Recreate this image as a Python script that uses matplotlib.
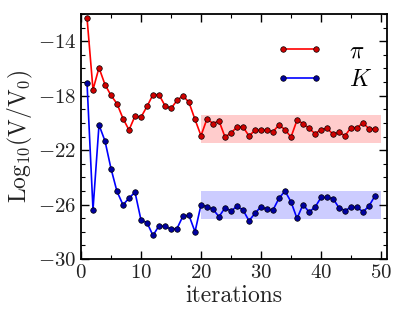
import numpy as np
import matplotlib
matplotlib.use("Agg")
import matplotlib.pyplot as plt
from matplotlib.ticker import MultipleLocator

plt.rcParams['font.family'] = 'serif'
plt.rcParams['font.serif'] = ['cmr10', 'DejaVu Serif']
plt.rcParams['mathtext.fontset'] = 'cm'
plt.rcParams['axes.formatter.use_mathtext'] = True

# 数据: 每次迭代的 log10(V/V0)
iterations = list(range(1, 50))
pi_vals = [-12.27, -17.56, -15.95, -17.19, -17.98, -18.59, -19.68, -20.52, -19.50, -19.58,
           -18.79, -17.93, -17.93, -18.74, -18.94, -18.35, -18.00, -18.50, -19.75, -20.94,
           -19.70, -20.05, -19.85, -21.04, -20.74, -20.30, -20.30, -20.96, -20.54, -20.54,
           -20.54, -20.64, -20.15, -20.50, -21.04, -19.80, -20.05, -20.40, -20.79, -20.50,
           -20.40, -20.83, -20.69, -20.94, -20.35, -20.35, -20.00, -20.44, -20.44]
k_vals = [-17.04, -26.37, -20.15, -21.33, -23.36, -25.04, -26.02, -25.53, -25.09, -27.14,
          -27.33, -28.27, -27.56, -27.61, -27.80, -27.76, -26.84, -26.80, -28.00, -26.02,
          -26.15, -26.35, -26.89, -26.24, -26.47, -26.13, -26.40, -27.19, -26.64, -26.15,
          -26.35, -26.40, -25.53, -25.01, -25.80, -27.02, -26.00, -26.54, -26.20, -25.48,
          -25.48, -25.56, -26.24, -26.44, -26.20, -26.20, -26.54, -26.10, -25.36]

# 平稳区间的范围
band_x = [20, 50]
pi_band = [-21.5, -19.4]
k_band = [-27.05, -25.0]

fig = plt.figure(figsize=(4.05, 3.24), dpi=100)
ax = fig.add_axes([0.2, 0.2006, 0.7556, 0.7562])

ax.fill_between(band_x, pi_band[0], pi_band[1], color='r', alpha=0.2, lw=0, zorder=1)
ax.fill_between(band_x, k_band[0], k_band[1], color='b', alpha=0.2, lw=0, zorder=1)

ax.plot(iterations, pi_vals, 'r-', marker='o', ms=4, mfc='#d00000', mec='k', mew=0.5,
        lw=1.2, label=r'$\pi$', zorder=3)
ax.plot(iterations, k_vals, 'b-', marker='o', ms=4, mfc='#0000a0', mec='k', mew=0.5,
        lw=1.2, label=r'$K$', zorder=3)

ax.set_xlim(0, 51)
ax.set_ylim(-30, -12)
ax.xaxis.set_major_locator(MultipleLocator(10))
ax.xaxis.set_minor_locator(MultipleLocator(5))
ax.yaxis.set_minor_locator(MultipleLocator(1))
ax.set_yticks([-30, -26, -22, -18, -14])
ax.tick_params(which='both', direction='in', top=True, right=True, labelsize=15,
               labelcolor='#222222')
ax.tick_params(which='major', length=6, width=1)
ax.tick_params(which='minor', length=3, width=0.8)
for s in ax.spines.values():
    s.set_linewidth(1.3)

ax.set_xlabel('iterations', fontsize=17, labelpad=2, color='#222222')
ax.set_ylabel(r'$\mathrm{Log_{10}(V/V_0)}$', fontsize=17, labelpad=2, color='#222222')

ax.legend(loc='upper right', bbox_to_anchor=(1.02, 0.98), frameon=False, fontsize=17,
          handlelength=2.0, handletextpad=1.1, labelspacing=0.3, numpoints=2)

fig.savefig('out.png', dpi=100)
